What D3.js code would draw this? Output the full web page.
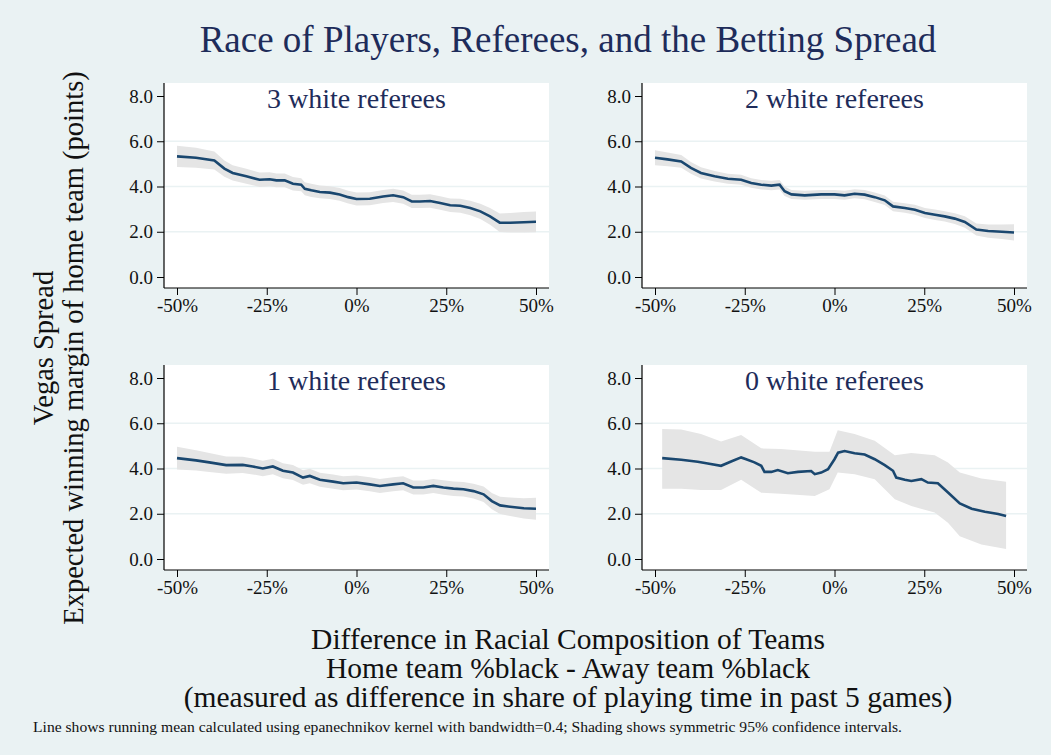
<!DOCTYPE html>
<html>
<head>
<meta charset="utf-8">
<script src="https://cdn.jsdelivr.net/npm/d3@7"></script>
<style>
  body { margin: 0; background: #eaf2f3; }
  text { font-family: "Liberation Serif", "Times New Roman", serif; }
</style>
</head>
<body>
<div class="canva"></div>
<script>
// tick values + panel labels
const xTicks = [-50, -25, 0, 25, 50];
const yTicks = [0, 2, 4, 6, 8];
const panelTitles = ['3 white referees', '2 white referees', '1 white referees', '0 white referees'];

// 3 white referees
const x3 = [-50, -44.7, -39.6, -36.8, -34.5, -30.7, -27, -24.2, -22.3, -20, -17.7, -15.4, -14.4, -12.6, -10.2, -7.4, -4.7, -2.3, 0, 3.7, 7.4, 10.2, 13, 15.4, 17.7, 20.5, 23.3, 26.1, 28.9, 31.7, 34.5, 37.2, 39.9, 42.8, 46.6, 50];
const mean3 = [5.33, 5.27, 5.15, 4.79, 4.6, 4.45, 4.3, 4.32, 4.27, 4.27, 4.12, 4.08, 3.9, 3.83, 3.76, 3.73, 3.65, 3.53, 3.45, 3.46, 3.56, 3.61, 3.53, 3.34, 3.34, 3.36, 3.27, 3.17, 3.15, 3.05, 2.9, 2.68, 2.4, 2.4, 2.42, 2.44];
const ci3 = [0.47, 0.44, 0.4, 0.36, 0.34, 0.33, 0.32, 0.31, 0.3, 0.3, 0.3, 0.29, 0.29, 0.29, 0.28, 0.28, 0.28, 0.28, 0.29, 0.29, 0.29, 0.29, 0.29, 0.29, 0.29, 0.3, 0.3, 0.3, 0.31, 0.32, 0.34, 0.37, 0.41, 0.43, 0.45, 0.46];

// 2 white referees
const x2 = [-50, -46.5, -42.7, -40, -37.2, -33.4, -29.7, -26, -23.2, -20.4, -17.6, -15.3, -13.9, -12, -8.3, -3.7, 0, 2.8, 5.6, 8.4, 11.2, 14, 16.3, 19.6, 22.4, 25.2, 28, 30.7, 33.5, 36.3, 39.5, 42.8, 46.6, 50];
const mean2 = [5.27, 5.2, 5.11, 4.82, 4.6, 4.45, 4.34, 4.3, 4.15, 4.08, 4.04, 4.08, 3.79, 3.65, 3.61, 3.65, 3.65, 3.61, 3.68, 3.64, 3.53, 3.39, 3.12, 3.05, 2.97, 2.83, 2.75, 2.68, 2.58, 2.43, 2.1, 2.03, 2.0, 1.97];
const ci2 = [0.33, 0.3, 0.28, 0.26, 0.25, 0.23, 0.22, 0.22, 0.21, 0.21, 0.21, 0.21, 0.21, 0.2, 0.2, 0.2, 0.2, 0.2, 0.2, 0.2, 0.21, 0.21, 0.21, 0.21, 0.22, 0.22, 0.23, 0.23, 0.24, 0.25, 0.27, 0.29, 0.32, 0.36];

// 1 white referees
const x1 = [-50, -44.7, -41, -36.3, -31.7, -28.9, -26.1, -23.3, -20.5, -17.7, -14.9, -13, -10.2, -6.5, -3.7, 0, 3.7, 6.5, 10.2, 13, 15.8, 18.6, 21.4, 24.2, 27, 29.8, 32.6, 35.4, 37.7, 40, 42.8, 46.6, 50];
const mean1 = [4.46, 4.36, 4.27, 4.15, 4.16, 4.09, 4.0, 4.09, 3.9, 3.82, 3.6, 3.67, 3.5, 3.42, 3.35, 3.38, 3.3, 3.23, 3.3, 3.35, 3.16, 3.16, 3.23, 3.16, 3.11, 3.08, 3.0, 2.86, 2.56, 2.37, 2.31, 2.24, 2.22];
const ci1 = [0.5, 0.45, 0.42, 0.38, 0.36, 0.35, 0.34, 0.34, 0.33, 0.33, 0.32, 0.32, 0.31, 0.31, 0.31, 0.31, 0.31, 0.31, 0.31, 0.31, 0.31, 0.31, 0.31, 0.32, 0.32, 0.32, 0.33, 0.34, 0.36, 0.38, 0.41, 0.45, 0.49];

// 0 white referees (line and band read separately, band is wide)
const x0 = [-48, -42.7, -38.1, -35.3, -31.6, -28.8, -26, -24.6, -22.3, -20.4, -19.5, -17.6, -15.8, -13, -10.2, -6.5, -5.5, -3.7, -1.8, 0, 1, 2.8, 5.6, 8.4, 11.2, 14, 16.3, 17.2, 19.6, 21.4, 24.2, 26, 28.8, 31.7, 34.9, 38.2, 41.9, 45.6, 47.8];
const mean0 = [4.46, 4.39, 4.3, 4.22, 4.12, 4.31, 4.49, 4.41, 4.27, 4.12, 3.85, 3.85, 3.93, 3.79, 3.85, 3.89, 3.75, 3.82, 3.97, 4.41, 4.7, 4.77, 4.67, 4.62, 4.41, 4.15, 3.9, 3.6, 3.5, 3.45, 3.53, 3.38, 3.35, 2.93, 2.46, 2.22, 2.09, 1.99, 1.9];
const band0x = [-48, -42.7, -37.2, -31.6, -26, -20.4, -14.9, -5.5, -1.4, 0.9, 5.6, 11.2, 16.8, 21.4, 27.9, 31.6, 34.9, 40.9, 47.8];
const band0hi = [5.75, 5.72, 5.53, 5.19, 5.48, 4.89, 4.86, 4.74, 4.74, 5.69, 5.53, 5.23, 4.59, 4.68, 4.59, 4.27, 3.82, 3.56, 3.41];
const band0lo = [3.11, 3.11, 3.05, 3.05, 3.5, 2.93, 2.88, 2.79, 3.08, 3.82, 3.75, 3.53, 2.64, 2.34, 2.05, 1.6, 1.01, 0.64, 0.44];

const W = 1051, H = 755;
const panelW = 385, panelH = 205;
const panels = [
  {left: 164, top: 83, x: x3, y: mean3, bx: x3, lo: mean3.map((v, i) => v - ci3[i]), hi: mean3.map((v, i) => v + ci3[i])},
  {left: 642, top: 83, x: x2, y: mean2, bx: x2, lo: mean2.map((v, i) => v - ci2[i]), hi: mean2.map((v, i) => v + ci2[i])},
  {left: 164, top: 365, x: x1, y: mean1, bx: x1, lo: mean1.map((v, i) => v - ci1[i]), hi: mean1.map((v, i) => v + ci1[i])},
  {left: 642, top: 365, x: x0, y: mean0, bx: band0x, lo: band0lo, hi: band0hi}
];

const navy = '#1a476f';
const titleColor = '#1e2c5a';

const svg = d3.select('.canva').append('svg')
  .attr('width', W)
  .attr('height', H)
  .style('display', 'block');

svg.append('rect').attr('width', W).attr('height', H).attr('fill', '#eaf2f3');

// main title
svg.append('text')
  .attr('x', 568).attr('y', 52)
  .attr('text-anchor', 'middle')
  .attr('font-size', 37)
  .attr('fill', titleColor)
  .text('Race of Players, Referees, and the Betting Spread');

const x = d3.scaleLinear().domain([-50, 50]).range([13, panelW - 13]);
const y = d3.scaleLinear().domain([0, 8]).range([panelH - 11, 13]);

panels.forEach((p, k) => {
  const g = svg.append('g').attr('transform', `translate(${p.left},${p.top})`);

  g.append('rect').attr('width', panelW).attr('height', panelH).attr('fill', '#fff');

  // gridlines
  g.selectAll('.grid').data([2, 4, 6]).enter().append('line')
    .attr('x1', 0).attr('x2', panelW)
    .attr('y1', d => y(d)).attr('y2', d => y(d))
    .attr('stroke', '#eaf2f3').attr('stroke-width', 1.5);

  g.append('text')
    .attr('x', panelW / 2).attr('y', 25)
    .attr('text-anchor', 'middle')
    .attr('font-size', 28)
    .attr('fill', titleColor)
    .text(panelTitles[k]);

  const band = p.bx.map((v, i) => ({x: v, lo: p.lo[i], hi: p.hi[i]}));
  g.append('path').datum(band)
    .attr('d', d3.area().x(d => x(d.x)).y0(d => y(d.lo)).y1(d => y(d.hi)))
    .attr('fill', '#e5e5e5');

  const pts = p.x.map((v, i) => [v, p.y[i]]);
  g.append('path').datum(pts)
    .attr('d', d3.line().x(d => x(d[0])).y(d => y(d[1])))
    .attr('fill', 'none')
    .attr('stroke', navy)
    .attr('stroke-width', 2.6);

  // axes
  const ya = g.append('g')
    .call(d3.axisLeft(y).tickValues(yTicks).tickFormat(d3.format('.1f')).tickSize(7).tickPadding(4));
  const xa = g.append('g').attr('transform', `translate(0,${panelH})`)
    .call(d3.axisBottom(x).tickValues(xTicks).tickFormat(d => d + '%').tickSize(7).tickPadding(4));
  [ya, xa].forEach(a => {
    a.select('.domain').remove();
    a.selectAll('text').attr('font-size', 19).attr('fill', '#111')
      .style('font-family', '"Liberation Serif", "Times New Roman", serif');
    a.selectAll('line').attr('stroke', '#000');
  });
  g.append('line').attr('x1', 0).attr('x2', 0).attr('y1', 0).attr('y2', panelH).attr('stroke', '#000').attr('stroke-width', 1.2);
  g.append('line').attr('x1', 0).attr('x2', panelW).attr('y1', panelH).attr('y2', panelH).attr('stroke', '#000').attr('stroke-width', 1.2);
});

// y axis title
const yt = svg.append('text')
  .attr('transform', 'translate(58,348) rotate(-90)')
  .attr('text-anchor', 'middle')
  .attr('font-size', 28.5)
  .attr('fill', '#111');
yt.append('tspan').attr('x', 0).attr('dy', -5).text('Vegas Spread');
yt.append('tspan').attr('x', 0).attr('dy', 30).text('Expected winning margin of home team (points)');

// x axis title
const xtLines = ['Difference in Racial Composition of Teams', 'Home team %black - Away team %black', '(measured as difference in share of playing time in past 5 games)'];
svg.selectAll('.xt').data(xtLines).enter().append('text')
  .attr('x', 568).attr('y', (d, i) => 649 + i * 29)
  .attr('text-anchor', 'middle')
  .attr('font-size', 29.5)
  .attr('fill', '#111')
  .text(d => d);

// footnote
svg.append('text')
  .attr('x', 33).attr('y', 732)
  .attr('font-size', 14)
  .attr('textLength', 869)
  .attr('lengthAdjust', 'spacingAndGlyphs')
  .attr('fill', '#111')
  .text('Line shows running mean calculated using epanechnikov kernel with bandwidth=0.4; Shading shows symmetric 95% confidence intervals.');
</script>
</body>
</html>
